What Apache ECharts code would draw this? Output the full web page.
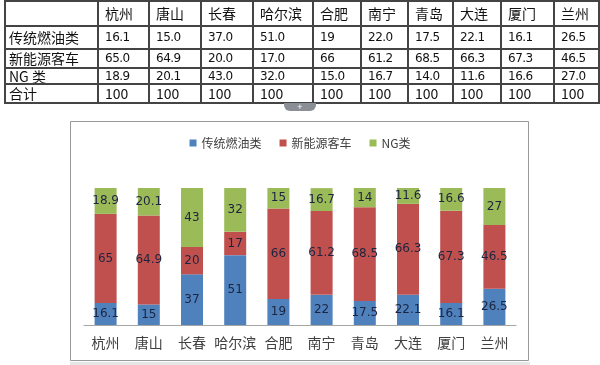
<!DOCTYPE html>
<html><head><meta charset="utf-8">
<script src="https://cdn.jsdelivr.net/npm/echarts@6/dist/echarts.min.js"></script>
<style>
html,body{margin:0;padding:0;background:#fff;}
#chart{position:absolute;left:0;top:0;width:600px;height:365px;}
#tbl{position:absolute;left:4px;top:0px;border-collapse:collapse;z-index:2;font-family:"Noto Sans CJK SC",sans-serif;color:#111;table-layout:fixed;}
#tbl td{border:2px solid #444;padding:0 0 0 6px;box-sizing:border-box;white-space:nowrap;overflow:hidden;line-height:13px;vertical-align:middle;}
#tbl td.h{font-size:14px;}
#tbl td.n{font-size:12px;font-family:"DejaVu Sans",sans-serif;letter-spacing:-0.5px;}
#tab{position:absolute;left:284px;top:103px;width:32px;height:8px;background:#8a8f96;border-radius:0 0 6px 6px;z-index:2;color:#fff;font:9px/8px sans-serif;text-align:center;}
</style></head>
<body>
<div id="chart"></div>
<table id="tbl"></table>
<div id="tab">+</div>
<script>
const categories = ['杭州','唐山','长春','哈尔滨','合肥','南宁','青岛','大连','厦门','兰州'];
const seriesNames = ['传统燃油类','新能源客车','NG类'];
const fuelValues = [16.1,15,37,51,19,22,17.5,22.1,16.1,26.5];
const newEnergyValues = [65,64.9,20,17,66,61.2,68.5,66.3,67.3,46.5];
const ngValues = [18.9,20.1,43,32,15,16.7,14,11.6,16.6,27];
const tableRowLabels = ['传统燃油类','新能源客车','NG 类','合计'];
const tableFuel = ['16.1','15.0','37.0','51.0','19','22.0','17.5','22.1','16.1','26.5'];
const tableNew = ['65.0','64.9','20.0','17.0','66','61.2','68.5','66.3','67.3','46.5'];
const tableNG = ['18.9','20.1','43.0','32.0','15.0','16.7','14.0','11.6','16.6','27.0'];
const tableTotal = ['100','100','100','100','100','100','100','100','100','100'];

// table
const colW = [93,51,52,52,60,48,47,45,48,53,45];
const rowH = [25,23,19,16,19];
const tbl = document.getElementById('tbl');
const rows = [[''].concat(categories), [tableRowLabels[0]].concat(tableFuel), [tableRowLabels[1]].concat(tableNew), [tableRowLabels[2]].concat(tableNG), [tableRowLabels[3]].concat(tableTotal)];
rows.forEach((r,ri)=>{
  const tr = document.createElement('tr');
  tr.style.height = rowH[ri]+'px';
  r.forEach((c,ci)=>{
    const td = document.createElement('td');
    td.textContent = c;
    td.className = (ri===0||ci===0) ? 'h' : 'n';
    if (ri===4) td.className='h';
    if (ci===0) td.style.paddingLeft='3px';
    td.style.width = colW[ci]+'px';
    td.style.height = rowH[ri]+'px';
    td.style.maxWidth = colW[ci]+'px';
    tr.appendChild(td);
  });
  tbl.appendChild(tr);
});

const chart = echarts.init(document.getElementById('chart'));
const labelStyle = {show:true, position:'inside', color:'#1c2440', fontSize:12, fontFamily:'DejaVu Sans', formatter: p => String(p.value)};
const colors = ['#4f81bd','#c0504d','#9bbb59'];
const data = [fuelValues, newEnergyValues, ngValues];
chart.setOption({
  animation:false,
  color: colors,
  graphic:[{type:'rect', shape:{x:70.5,y:121.5,width:458,height:239}, style:{fill:'#fff', stroke:'#9a9a9a', lineWidth:1}, z:-10},
           {type:'rect', shape:{x:70,y:362,width:460,height:3}, style:{fill:'#e6e6e6'}, z:-10}],
  legend:{top:132, left:'center', itemWidth:7, itemHeight:7, itemGap:18, icon:'rect',
    textStyle:{fontSize:12, color:'#404040', fontFamily:'Noto Sans CJK SC'}, data:seriesNames},
  grid:{left:84, right:84, top:188, bottom:40},
  xAxis:{type:'category', data:categories, axisTick:{show:false},
    axisLine:{lineStyle:{color:'#a6a6a6'}},
    axisLabel:{interval:0, fontSize:14, color:'#404040', margin:11, fontFamily:'Noto Sans CJK SC'}},
  yAxis:{type:'value', min:0, max:100, show:false, splitLine:{show:false}},
  series: seriesNames.map((n,i)=>({name:n, type:'bar', stack:'t', barWidth:22, data:data[i], label:labelStyle}))
});
</script>
</body></html>
